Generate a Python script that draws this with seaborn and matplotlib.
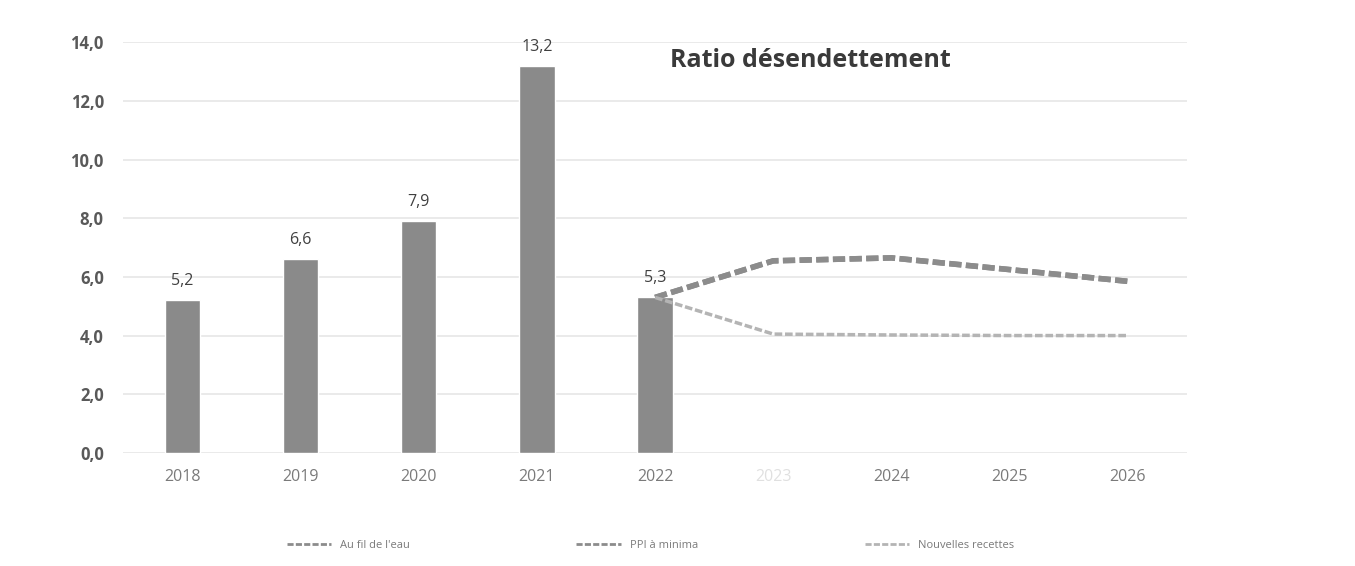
import matplotlib
matplotlib.use("Agg")
import matplotlib.pyplot as plt
import seaborn as sns
import pandas as pd

bar_years = [2018, 2019, 2020, 2021, 2022]
bar_values = [5.2, 6.6, 7.9, 13.2, 5.3]
bar_labels = ["5,2", "6,6", "7,9", "13,2", "5,3"]

proj_years = [2022, 2023, 2024, 2025, 2026]
au_fil_de_leau = [5.3, 6.55, 6.65, 6.25, 5.85]
ppi_a_minima = [5.3, 6.55, 6.65, 6.25, 5.85]
nouvelles_recettes = [5.3, 4.05, 4.02, 4.0, 4.0]

all_years = [2018, 2019, 2020, 2021, 2022, 2023, 2024, 2025, 2026]
y_ticks = [0, 2, 4, 6, 8, 10, 12, 14]
y_tick_labels = ["0,0", "2,0", "4,0", "6,0", "8,0", "10,0", "12,0", "14,0"]

sns.set_theme(style="white")
plt.rcParams['font.family'] = ['Open Sans', 'DejaVu Sans']

fig = plt.figure(figsize=(13.55, 5.66), dpi=100)
ax = fig.add_axes([0.091, 0.2, 0.785, 0.725])

df_bar = pd.DataFrame({"year": bar_years, "value": bar_values})
sns.barplot(data=df_bar, x="year", y="value", native_scale=True, width=0.3,
            color="#8a8a8a", saturation=1, ax=ax, zorder=3)

df_lines = pd.DataFrame({
    "year": proj_years * 3,
    "value": au_fil_de_leau + ppi_a_minima + nouvelles_recettes,
    "series": ["Au fil de l'eau"] * 5 + ["PPI à minima"] * 5 + ["Nouvelles recettes"] * 5,
})
styles = {
    "Au fil de l'eau": dict(color="#8c8c8c", lw=4.0),
    "PPI à minima": dict(color="#8c8c8c", lw=4.0),
    "Nouvelles recettes": dict(color="#b4b4b4", lw=2.5),
}
for name, sub in df_lines.groupby("series", sort=False):
    sns.lineplot(data=sub, x="year", y="value", ax=ax, label=name,
                 color=styles[name]["color"], lw=styles[name]["lw"],
                 linestyle=(0, (2.2, 0.8)), zorder=4, legend=False)

for x, v, lab in zip(bar_years, bar_values, bar_labels):
    ax.annotate(lab, (x, v), xytext=(0, 8), textcoords="offset points",
                ha="center", va="bottom", fontsize=11.5, color="#404040")

ax.set_xlim(2017.5, 2026.5)
ax.set_ylim(0, 14)
ax.set_yticks(y_ticks)
ax.set_yticklabels(y_tick_labels, fontsize=12, color="#595959", fontweight="bold")
ax.set_xticks(all_years)
ax.set_xticklabels([str(y) for y in all_years], fontsize=11.5, color="#7a7a7a")
ax.get_xticklabels()[5].set_color("#e0e0e0")
ax.tick_params(axis="both", length=0, pad=12)
ax.tick_params(axis="y", pad=14)
ax.grid(axis="y", color="#e6e6e6", lw=1.2, zorder=0)
ax.set_axisbelow(True)
for s in ax.spines.values():
    s.set_visible(False)
ax.set_xlabel("")
ax.set_ylabel("")

ax.text(0.646, 0.955, "Ratio désendettement", transform=ax.transAxes,
        ha="center", va="center", fontsize=18, fontweight="bold", color="#3a3a3a")

handles, labels = ax.get_legend_handles_labels()
fig.legend(handles, labels, loc="center", bbox_to_anchor=(0.48, 0.037), ncol=3,
           frameon=False, fontsize=8, handlelength=4, columnspacing=15,
           labelcolor="#7a7a7a")
for h in fig.legends[0].legend_handles:
    h.set_linewidth(2)

fig.savefig("out.png", dpi=100, facecolor="white")
